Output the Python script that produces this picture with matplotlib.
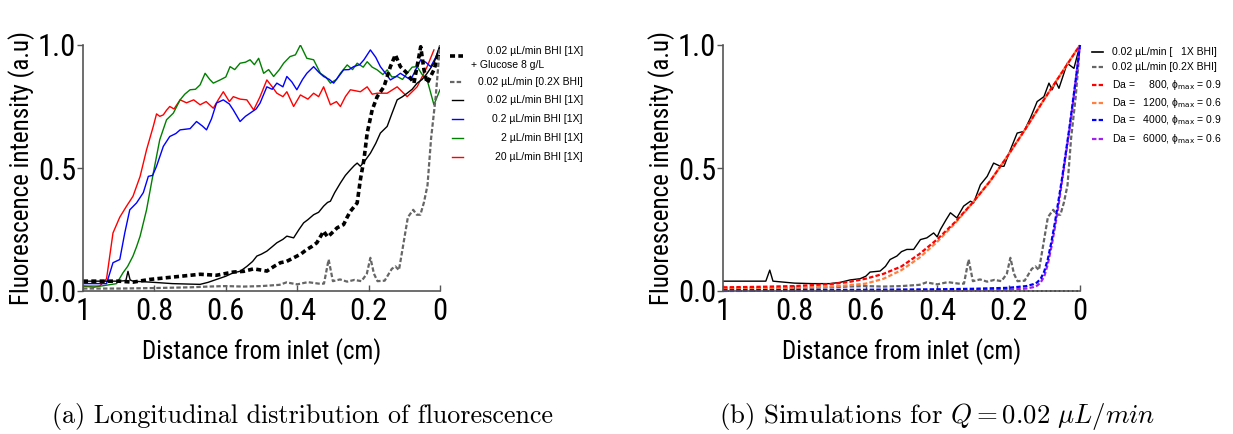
import matplotlib
matplotlib.use("Agg")
from matplotlib import pyplot as plt
from matplotlib.lines import Line2D

# ---- panel (a): measured profiles, x = distance from inlet (cm) ----
gray_x = [1, 0.9, 0.8, 0.7, 0.65, 0.6, 0.55, 0.5, 0.45, 0.43, 0.4, 0.37, 0.34, 0.325, 0.312, 0.3, 0.28, 0.26,
          0.24, 0.22, 0.205, 0.195, 0.185, 0.175, 0.155, 0.135, 0.125, 0.115, 0.105, 0.09, 0.075, 0.065, 0.055,
          0.045, 0.035, 0.025, 0.012, 0]
gray_y = [0.01, 0.01, 0.012, 0.015, 0.018, 0.02, 0.018, 0.02, 0.025, 0.035, 0.027, 0.036, 0.03, 0.03, 0.128,
          0.04, 0.047, 0.038, 0.045, 0.04, 0.07, 0.135, 0.07, 0.04, 0.042, 0.09, 0.1, 0.085, 0.17, 0.3, 0.33,
          0.31, 0.31, 0.36, 0.43, 0.62, 0.79, 1.0]

bl_x = [1, 0.95, 0.9, 0.88, 0.874, 0.868, 0.86, 0.8, 0.75, 0.7, 0.672, 0.65, 0.626, 0.6, 0.579, 0.56, 0.541,
        0.525, 0.513, 0.5, 0.485, 0.47, 0.457, 0.44, 0.429, 0.41, 0.395, 0.382, 0.37, 0.354, 0.34, 0.326, 0.315,
        0.307, 0.295, 0.279, 0.265, 0.251, 0.24, 0.232, 0.223, 0.21, 0.195, 0.18, 0.167, 0.148, 0.135, 0.12,
        0.105, 0.092, 0.078, 0.064, 0.05, 0.036, 0.017, 0]
bl_y = [0.04, 0.04, 0.04, 0.042, 0.08, 0.045, 0.04, 0.035, 0.03, 0.028, 0.027, 0.035, 0.047, 0.06, 0.074, 0.08,
        0.1, 0.12, 0.142, 0.15, 0.162, 0.18, 0.196, 0.21, 0.223, 0.216, 0.25, 0.277, 0.29, 0.31, 0.32, 0.345,
        0.36, 0.365, 0.4, 0.439, 0.47, 0.493, 0.51, 0.52, 0.507, 0.53, 0.56, 0.6, 0.642, 0.669, 0.72, 0.777,
        0.79, 0.804, 0.82, 0.845, 0.86, 0.885, 0.926, 1.0]

gl_x = [1, 0.95, 0.9, 0.86, 0.813, 0.766, 0.719, 0.672, 0.626, 0.579, 0.55, 0.522, 0.5, 0.485, 0.465, 0.447,
        0.43, 0.41, 0.39, 0.373, 0.36, 0.345, 0.326, 0.315, 0.307, 0.288, 0.27, 0.26, 0.251, 0.232, 0.223, 0.213,
        0.204, 0.19, 0.176, 0.157, 0.139, 0.125, 0.111, 0.092, 0.073, 0.054, 0.045, 0.036, 0.017, 0]
gl_y = [0.04, 0.04, 0.04, 0.036, 0.047, 0.054, 0.061, 0.068, 0.064, 0.077, 0.08, 0.09, 0.085, 0.081, 0.1, 0.115,
        0.12, 0.135, 0.15, 0.169, 0.18, 0.196, 0.243, 0.22, 0.23, 0.257, 0.27, 0.3, 0.324, 0.358, 0.453, 0.534,
        0.642, 0.736, 0.79, 0.83, 0.912, 0.96, 0.912, 0.885, 0.845, 0.993, 0.9, 0.845, 0.899, 0.98]

rd_x = [1, 0.97, 0.953, 0.934, 0.916, 0.897, 0.878, 0.86, 0.84, 0.822, 0.803, 0.794, 0.785, 0.775, 0.766, 0.757,
        0.745, 0.728, 0.71, 0.69, 0.672, 0.655, 0.635, 0.62, 0.607, 0.59, 0.579, 0.56, 0.541, 0.522, 0.504, 0.485,
        0.47, 0.457, 0.44, 0.429, 0.41, 0.391, 0.37, 0.354, 0.34, 0.326, 0.307, 0.29, 0.279, 0.265, 0.251, 0.223,
        0.204, 0.19, 0.176, 0.148, 0.12, 0.092, 0.064, 0.036, 0.017]
rd_y = [0.02, 0.015, 0.02, 0.05, 0.236, 0.3, 0.345, 0.385, 0.466, 0.574, 0.67, 0.72, 0.71, 0.716, 0.735, 0.75,
        0.74, 0.777, 0.765, 0.777, 0.757, 0.77, 0.743, 0.78, 0.81, 0.77, 0.79, 0.78, 0.777, 0.736, 0.79, 0.858,
        0.83, 0.804, 0.79, 0.81, 0.75, 0.797, 0.78, 0.804, 0.79, 0.83, 0.757, 0.77, 0.75, 0.79, 0.818, 0.81,
        0.83, 0.8, 0.804, 0.804, 0.83, 0.79, 0.83, 0.912, 0.98]

gr_x = [1, 0.95, 0.906, 0.888, 0.875, 0.86, 0.85, 0.84, 0.822, 0.803, 0.785, 0.766, 0.747, 0.728, 0.715, 0.7,
        0.685, 0.672, 0.658, 0.645, 0.635, 0.616, 0.6, 0.588, 0.575, 0.56, 0.545, 0.532, 0.52, 0.508, 0.494,
        0.48, 0.466, 0.45, 0.438, 0.42, 0.405, 0.391, 0.373, 0.354, 0.335, 0.32, 0.307, 0.29, 0.279, 0.26,
        0.245, 0.232, 0.215, 0.204, 0.19, 0.176, 0.16, 0.148, 0.135, 0.12, 0.105, 0.092, 0.078, 0.064, 0.05,
        0.036, 0.017, 0]
gr_y = [0.02, 0.02, 0.03, 0.074, 0.1, 0.142, 0.18, 0.223, 0.33, 0.48, 0.615, 0.696, 0.723, 0.777, 0.8, 0.818,
        0.82, 0.838, 0.885, 0.86, 0.845, 0.858, 0.87, 0.912, 0.9, 0.926, 0.93, 0.94, 0.92, 0.946, 0.885, 0.9,
        0.872, 0.9, 0.926, 0.953, 0.96, 1.0, 0.946, 0.94, 0.885, 0.87, 0.845, 0.86, 0.885, 0.919, 0.9, 0.926,
        0.91, 0.932, 0.91, 0.899, 0.88, 0.899, 0.87, 0.872, 0.86, 0.885, 0.91, 0.912, 0.88, 0.858, 0.757, 0.818]

bu_x = [1, 0.95, 0.934, 0.916, 0.897, 0.883, 0.869, 0.85, 0.831, 0.817, 0.805, 0.794, 0.775, 0.757, 0.74, 0.728,
        0.7, 0.682, 0.665, 0.654, 0.64, 0.626, 0.607, 0.59, 0.579, 0.56, 0.545, 0.532, 0.515, 0.504, 0.485, 0.47,
        0.457, 0.44, 0.429, 0.415, 0.401, 0.385, 0.373, 0.354, 0.34, 0.326, 0.31, 0.298, 0.285, 0.27, 0.255,
        0.242, 0.225, 0.213, 0.195, 0.18, 0.167, 0.15, 0.139, 0.125, 0.111, 0.095, 0.082, 0.068, 0.054, 0.04,
        0.026, 0.012, 0]
bu_y = [0.03, 0.03, 0.03, 0.115, 0.128, 0.236, 0.33, 0.358, 0.4, 0.466, 0.47, 0.507, 0.588, 0.628, 0.64, 0.655,
        0.66, 0.689, 0.67, 0.655, 0.7, 0.764, 0.777, 0.76, 0.736, 0.689, 0.71, 0.723, 0.74, 0.764, 0.83, 0.82,
        0.845, 0.83, 0.872, 0.85, 0.818, 0.86, 0.885, 0.912, 0.89, 0.872, 0.86, 0.845, 0.87, 0.899, 0.9, 0.912,
        0.92, 0.94, 0.98, 0.95, 0.912, 0.88, 0.858, 0.87, 0.885, 0.87, 0.858, 0.9, 0.94, 0.93, 0.912, 0.95, 0.993]

# ---- panel (b): 0.02 uL/min data + simulations ----
sb_x = [1, 0.95, 0.9, 0.88, 0.869, 0.86, 0.8, 0.75, 0.7, 0.672, 0.644, 0.616, 0.6, 0.588, 0.56, 0.545, 0.532,
        0.513, 0.5, 0.485, 0.466, 0.447, 0.429, 0.41, 0.4, 0.391, 0.375, 0.363, 0.345, 0.326, 0.307, 0.298,
        0.279, 0.26, 0.242, 0.223, 0.213, 0.195, 0.176, 0.157, 0.139, 0.12, 0.101, 0.087, 0.078, 0.068, 0.059,
        0.045, 0.036, 0.017, 0]
sb_y = [0.04, 0.04, 0.04, 0.04, 0.085, 0.04, 0.032, 0.03, 0.03, 0.035, 0.045, 0.05, 0.06, 0.077, 0.081, 0.1,
        0.128, 0.142, 0.16, 0.169, 0.169, 0.209, 0.216, 0.236, 0.22, 0.25, 0.29, 0.318, 0.297, 0.345, 0.365,
        0.358, 0.432, 0.466, 0.52, 0.507, 0.507, 0.574, 0.642, 0.649, 0.703, 0.77, 0.79, 0.845, 0.818, 0.851,
        0.824, 0.885, 0.926, 0.905, 1.0]

sim_x = [1, 0.9, 0.8, 0.7, 0.65, 0.6, 0.55, 0.5, 0.45, 0.4, 0.35, 0.3, 0.25, 0.2, 0.15, 0.1, 0.05, 0]
da800 = [0.015, 0.017, 0.02, 0.028, 0.036, 0.05, 0.07, 0.1, 0.15, 0.21, 0.28, 0.36, 0.45, 0.555, 0.665, 0.78,
         0.89, 1.0]
da1200 = [0.01, 0.011, 0.013, 0.018, 0.023, 0.03, 0.05, 0.085, 0.135, 0.2, 0.275, 0.36, 0.45, 0.555, 0.665,
          0.78, 0.89, 1.0]
fast_x = [1, 0.8, 0.6, 0.4, 0.3, 0.2, 0.15, 0.13, 0.12, 0.11, 0.1, 0.09, 0.08, 0.07, 0.06, 0.05, 0.04, 0.03,
          0.02, 0.01, 0]
da4000 = [0.003, 0.004, 0.005, 0.007, 0.009, 0.013, 0.02, 0.028, 0.035, 0.05, 0.08, 0.13, 0.2, 0.28, 0.37,
          0.46, 0.56, 0.66, 0.77, 0.88, 1.0]
da6000 = [0.0, 0.001, 0.001, 0.002, 0.003, 0.005, 0.01, 0.016, 0.022, 0.035, 0.06, 0.11, 0.18, 0.26, 0.35,
          0.45, 0.55, 0.65, 0.76, 0.88, 1.0]

xticks = [1, 0.8, 0.6, 0.4, 0.2, 0]
xtick_labels = ["1", "0.8", "0.6", "0.4", "0.2", "0"]
yticks = [0, 0.5, 1.0]
ytick_labels = ["0.0", "0.5", "1.0"]

narrow = ["Roboto Condensed", "DejaVu Sans"]
plain = ["Liberation Sans", "DejaVu Sans"]
axc = "#555555"

W, H = 1233, 434
fig = plt.figure(figsize=(W / 100, H / 100), dpi=100)


def setup(ax):
    ax.set_xlim(1, 0)
    ax.set_ylim(0, 1)
    for s in ["top", "right"]:
        ax.spines[s].set_visible(False)
    for s in ["left", "bottom"]:
        ax.spines[s].set_color(axc)
        ax.spines[s].set_linewidth(1.2)
    ax.set_xticks(xticks)
    ax.set_xticklabels(xtick_labels, family=narrow, fontsize=22)
    ax.set_yticks(yticks)
    ax.set_yticklabels(ytick_labels, family=narrow, fontsize=22)
    ax.tick_params(axis="x", direction="in", length=4, width=1, color=axc, pad=4)
    ax.tick_params(axis="y", direction="out", length=4, width=1, color=axc, pad=1)
    ax.set_xlabel("Distance from inlet (cm)", family=narrow, fontsize=18, labelpad=9)
    ax.set_ylabel("Fluorescence intensity (a.u)", family=narrow, fontsize=18, labelpad=2)


def legend_row(y, x0, x1, tx, label, ha, **style):
    # one legend entry in figure pixels (top-left origin)
    fig.add_artist(Line2D([x0 / W, x1 / W], [1 - y / H, 1 - y / H], transform=fig.transFigure, **style))
    if label:
        fig.text(tx / W, 1 - y / H, label, ha=ha, va="center", family=plain, fontsize=7.5)


dash_thick = (0, (1.4, 0.9))
dash = (0, (2, 1))

axa = fig.add_axes([83 / W, 1 - 291 / H, 357 / W, 246 / H])
setup(axa)
axa.plot(rd_x, rd_y, color="#ff0000", lw=1)
axa.plot(gr_x, gr_y, color="#008000", lw=1)
axa.plot(bu_x, bu_y, color="#0000ff", lw=1)
axa.plot(bl_x, bl_y, color="black", lw=1)
axa.plot(gl_x, gl_y, color="black", lw=2.6, linestyle=dash_thick)
axa.plot(gray_x, gray_y, color="#666666", lw=1.6, linestyle=dash)

legend_row(56, 450, 463, 583, "", "right", color="black", lw=2.6, linestyle=dash_thick)
fig.text(583 / W, 1 - 51 / H, "0.02 µL/min BHI [1X]", ha="right", va="center", family=plain, fontsize=7.5)
fig.text(471 / W, 1 - 65 / H, "+ Glucose 8 g/L", ha="left", va="center", family=plain, fontsize=7.5)
legend_row(82, 450, 463, 583, "0.02 µL/min [0.2X BHI]", "right", color="#666666", lw=1.6, linestyle=dash)
legend_row(100, 452, 463, 583, "0.02 µL/min BHI [1X]", "right", color="black", lw=1)
legend_row(119, 452, 463, 583, "0.2 µL/min BHI [1X]", "right", color="#0000ff", lw=1)
legend_row(138, 452, 463, 583, "2 µL/min BHI [1X]", "right", color="#008000", lw=1)
legend_row(157, 452, 463, 583, "20 µL/min BHI [1X]", "right", color="#ff0000", lw=1)

axb = fig.add_axes([723 / W, 1 - 291 / H, 357 / W, 246 / H])
setup(axb)
axb.plot([1, 0], [0, 0], color="black", lw=1.2, linestyle=":", clip_on=False)
axb.plot(sb_x, sb_y, color="black", lw=1)
axb.plot(gray_x, gray_y, color="#666666", lw=1.6, linestyle=dash)
axb.plot(sim_x, da1200, color="#ff8040", lw=1.6, linestyle=dash)
axb.plot(sim_x, da800, color="#ff0000", lw=1.6, linestyle=dash)
axb.plot(fast_x, da6000, color="#a020f0", lw=1.6, linestyle=dash, clip_on=False)
axb.plot(fast_x, da4000, color="#0000ff", lw=1.6, linestyle=dash, clip_on=False)

legend_row(52, 1092, 1103, 1112, "0.02 µL/min [   1X BHI]", "left", color="black", lw=1.2)
legend_row(67, 1092, 1103, 1112, "0.02 µL/min [0.2X BHI]", "left", color="#666666", lw=1.6, linestyle=dash)
legend_row(85, 1092, 1103, 1112, r"Da =     800, ϕ$_{\mathrm{max}}$ = 0.9", "left", color="#ff0000", lw=1.6,
           linestyle=dash)
legend_row(103, 1092, 1103, 1112, r"Da =   1200, ϕ$_{\mathrm{max}}$ = 0.6", "left", color="#ff8040", lw=1.6,
           linestyle=dash)
legend_row(120, 1092, 1103, 1112, r"Da =   4000, ϕ$_{\mathrm{max}}$ = 0.9", "left", color="#0000ff", lw=1.6,
           linestyle=dash)
legend_row(139, 1092, 1103, 1112, r"Da =   6000, ϕ$_{\mathrm{max}}$ = 0.6", "left", color="#a020f0", lw=1.6,
           linestyle=dash)

fig.text(303 / W, 1 - 416 / H, "(a) Longitudinal distribution of fluorescence", ha="center", va="center",
         family="cmr10", fontsize=18.7)
fig.text(937 / W, 1 - 416 / H, r"(b) Simulations for $Q = 0.02\ \mu L/min$", ha="center", va="center",
         family="cmr10", fontsize=19.3, math_fontfamily="cm")

fig.savefig("out.png", dpi=100)
